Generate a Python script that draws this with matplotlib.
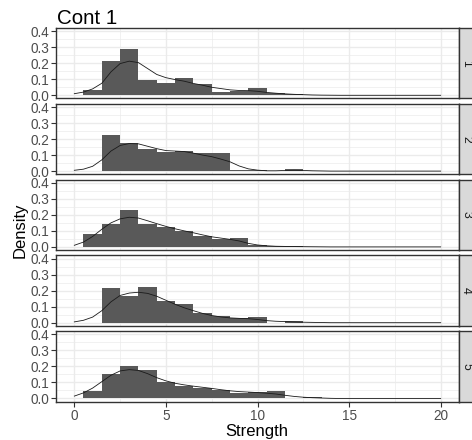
import numpy as np
import matplotlib
matplotlib.use("Agg")
import matplotlib.pyplot as plt

plt.rcParams['font.family'] = ['Liberation Sans', 'DejaVu Sans']

# Histogram bins (width 1) centred on 1..14, density per facet
bin_centers = [1, 2, 3, 4, 5, 6, 7, 8, 9, 10, 11, 12, 13, 14]
facets = ["1", "2", "3", "4", "5"]
hist_1 = [0.031, 0.215, 0.29, 0.094, 0.079, 0.11, 0.071, 0.021, 0.029, 0.046, 0.017, 0.01, 0.003, 0]
hist_2 = [0, 0.226, 0.174, 0.136, 0.117, 0.126, 0.113, 0.113, 0.008, 0.004, 0, 0.01, 0.003, 0]
hist_3 = [0.078, 0.146, 0.233, 0.146, 0.126, 0.099, 0.07, 0.052, 0.056, 0.014, 0.006, 0.004, 0, 0]
hist_4 = [0, 0.215, 0.167, 0.225, 0.135, 0.115, 0.063, 0.042, 0.027, 0.033, 0, 0.012, 0, 0]
hist_5 = [0.044, 0.154, 0.2, 0.179, 0.1, 0.077, 0.067, 0.052, 0.035, 0.04, 0.046, 0.006, 0.012, 0.004]

# Kernel density estimates sampled along Strength
dens_x = [0, 0.5, 1, 1.5, 2, 2.5, 3, 3.5, 4, 4.5, 5, 5.5, 6, 6.5, 7, 7.5, 8, 8.5, 9, 9.5,
          10, 10.5, 11, 11.5, 12, 12.5, 13, 13.5, 14, 14.5, 20]
dens_1 = [0.01, 0.02, 0.04, 0.075, 0.146, 0.198, 0.213, 0.204, 0.167, 0.13, 0.11, 0.098, 0.088, 0.074,
          0.063, 0.05, 0.042, 0.034, 0.03, 0.029, 0.025, 0.018, 0.013, 0.009, 0.006, 0.004, 0.002, 0.001,
          0.0005, 0, 0]
dens_2 = [0.005, 0.012, 0.03, 0.07, 0.125, 0.16, 0.172, 0.17, 0.155, 0.14, 0.128, 0.125, 0.122, 0.112,
          0.1, 0.09, 0.075, 0.058, 0.032, 0.014, 0.006, 0.002, 0.002, 0.004, 0.005, 0.004, 0.002, 0.001,
          0, 0, 0]
dens_3 = [0.01, 0.03, 0.065, 0.11, 0.15, 0.175, 0.185, 0.18, 0.163, 0.145, 0.128, 0.113, 0.1, 0.088,
          0.075, 0.063, 0.055, 0.047, 0.037, 0.022, 0.012, 0.007, 0.004, 0.003, 0.002, 0.0015, 0.001,
          0.0005, 0, 0, 0]
dens_4 = [0.005, 0.015, 0.035, 0.075, 0.13, 0.17, 0.185, 0.19, 0.183, 0.165, 0.14, 0.115, 0.093, 0.075,
          0.058, 0.045, 0.036, 0.03, 0.027, 0.025, 0.02, 0.013, 0.009, 0.007, 0.005, 0.003, 0.002, 0.001,
          0, 0, 0]
dens_5 = [0.015, 0.035, 0.065, 0.105, 0.145, 0.172, 0.18, 0.175, 0.155, 0.13, 0.11, 0.095, 0.085, 0.077,
          0.07, 0.063, 0.055, 0.048, 0.043, 0.04, 0.037, 0.033, 0.028, 0.02, 0.013, 0.008, 0.005, 0.003,
          0.001, 0, 0]

hists = [hist_1, hist_2, hist_3, hist_4, hist_5]
denss = [dens_1, dens_2, dens_3, dens_4, dens_5]

x_ticks = [0, 5, 10, 15, 20]
y_ticks = [0.0, 0.1, 0.2, 0.3, 0.4]

W, H = 472, 440
fig = plt.figure(figsize=(W / 100, H / 100), dpi=100)

left, right = 56, 459
panel_h = 70.5
step = 75.8
top0 = 28
strip_w = 16

grid_col = "#EBEBEB"
border_col = "#333333"
tick_col = "#4D4D4D"

for i, (lab, h, d) in enumerate(zip(facets, hists, denss)):
    top = top0 + i * step
    ax = fig.add_axes([left / W, 1 - (top + panel_h) / H, (right - left) / W, panel_h / H])
    ax.set_xlim(-1, 21)
    ax.set_ylim(-0.02, 0.42)
    ax.set_xticks(x_ticks)
    ax.set_xticks([2.5, 7.5, 12.5, 17.5], minor=True)
    ax.set_yticks(y_ticks)
    ax.set_yticks([0.05, 0.15, 0.25, 0.35], minor=True)
    ax.grid(True, which='major', color=grid_col, lw=1.0, zorder=0)
    ax.grid(True, which='minor', color=grid_col, lw=0.5, zorder=0)
    ax.set_axisbelow(True)
    ax.bar(bin_centers, h, width=1.0, color="#595959", edgecolor='none', zorder=2)
    ax.plot(dens_x, d, color="#1a1a1a", lw=0.6, zorder=3)
    for s in ax.spines.values():
        s.set_color(border_col)
        s.set_linewidth(1.0)
    ax.tick_params(which='major', length=3.5, width=0.8, color=border_col,
                   labelsize=9.8, labelcolor=tick_col, pad=1.5)
    ax.tick_params(which='minor', length=0)
    ax.set_yticklabels([f"{v:.1f}" for v in y_ticks])
    if i < len(facets) - 1:
        ax.tick_params(axis='x', labelbottom=False, length=0)
    else:
        ax.set_xticklabels([str(v) for v in x_ticks])
        ax.tick_params(axis='x', labelsize=9.8, pad=2)

    # facet strip on the right
    sax = fig.add_axes([right / W, 1 - (top + panel_h) / H, strip_w / W, panel_h / H])
    sax.set_facecolor("#D9D9D9")
    sax.set_xticks([])
    sax.set_yticks([])
    for s in sax.spines.values():
        s.set_color(border_col)
        s.set_linewidth(1.0)
    sax.text(0.45, 0.5, lab, rotation=-90, ha='center', va='center',
             fontsize=8.8, color="#1A1A1A", transform=sax.transAxes)

fig.text(57 / W, 1 - 18 / H, "Cont 1", fontsize=14.8, ha='left', va='center', color='black')
fig.text(20 / W, 1 - 230 / H, "Density", fontsize=12, rotation=90, ha='center', va='center')
fig.text(257 / W, 1 - 431 / H, "Strength", fontsize=12, ha='center', va='center')

fig.savefig("out.png", dpi=100, facecolor='white')
